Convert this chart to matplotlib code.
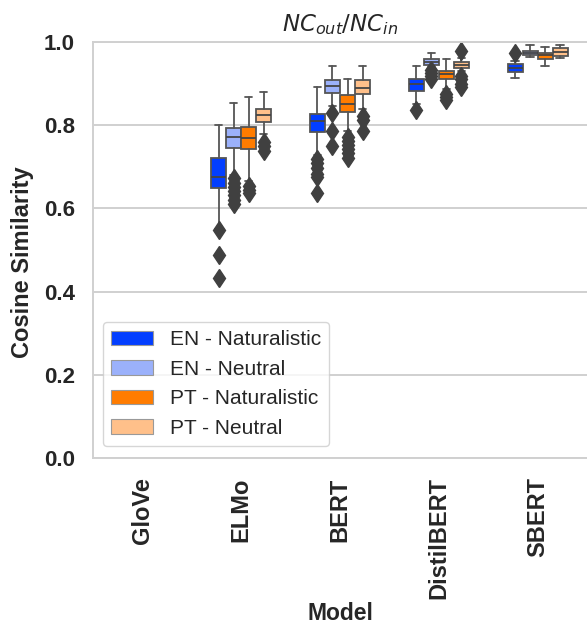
import numpy as np
import matplotlib
matplotlib.use('Agg')
import matplotlib.pyplot as plt
import matplotlib.patches as mpatches
import seaborn as sns

models = ['GloVe', 'ELMo', 'BERT', 'DistilBERT', 'SBERT']
hue_names = ['EN - Naturalistic', 'EN - Neutral', 'PT - Naturalistic', 'PT - Neutral']
hue_colors = ['#023eff', '#9bb1fb', '#ff7c00', '#ffc08a']

# (whislo, q1, median, q3, whishi) per model; GloVe has no data
en_nat = [None, (0.550, 0.648, 0.676, 0.722, 0.800), (0.728, 0.783, 0.810, 0.827, 0.891),
          (0.852, 0.883, 0.898, 0.911, 0.942), (0.914, 0.929, 0.938, 0.946, 0.955)]
en_neu = [None, (0.680, 0.745, 0.771, 0.794, 0.854), (0.845, 0.877, 0.894, 0.909, 0.942),
          (0.940, 0.945, 0.952, 0.958, 0.973), (0.963, 0.969, 0.974, 0.979, 0.993)]
pt_nat = [None, (0.667, 0.743, 0.770, 0.796, 0.867), (0.785, 0.832, 0.851, 0.873, 0.912),
          (0.888, 0.911, 0.922, 0.931, 0.958), (0.942, 0.958, 0.969, 0.973, 0.989)]
pt_neu = [None, (0.778, 0.807, 0.824, 0.838, 0.880), (0.840, 0.874, 0.890, 0.909, 0.943),
          (0.930, 0.937, 0.945, 0.951, 0.961), (0.961, 0.966, 0.976, 0.985, 0.993)]

en_nat_fliers = [[], [0.548, 0.487, 0.432], [0.718, 0.708, 0.696, 0.683, 0.675, 0.638],
                 [0.836], [0.973]]
en_neu_fliers = [[], [0.672, 0.662, 0.652, 0.642, 0.632, 0.620, 0.610], [0.830, 0.786, 0.751],
                 [0.932, 0.925, 0.918, 0.910], []]
pt_nat_fliers = [[], [0.655, 0.645, 0.638], [0.772, 0.762, 0.752, 0.742, 0.732, 0.722],
                 [0.876, 0.868, 0.860], []]
pt_neu_fliers = [[], [0.760, 0.750, 0.737], [0.822, 0.812, 0.786],
                 [0.978, 0.918, 0.910, 0.900, 0.893], []]

series = [(en_nat, en_nat_fliers), (en_neu, en_neu_fliers),
          (pt_nat, pt_nat_fliers), (pt_neu, pt_neu_fliers)]

sns.set_theme(style='whitegrid')
plt.rcParams['font.family'] = ['Liberation Sans', 'DejaVu Sans']

fig = plt.figure(figsize=(5.87, 6.23), dpi=100)
ax = fig.add_axes([93 / 587, 165 / 623, 494 / 587, 416 / 623])

slot = 0.152
edge = '#555555'
for j, (vals, fl) in enumerate(series):
    offset = (j - 1.5) * slot
    for i, v in enumerate(vals):
        if v is None:
            continue
        stats = [dict(whislo=v[0], q1=v[1], med=v[2], q3=v[3], whishi=v[4], fliers=fl[i])]
        ax.bxp(stats, positions=[i + offset], widths=slot, patch_artist=True,
               manage_ticks=False,
               boxprops=dict(facecolor=hue_colors[j], edgecolor=edge, linewidth=1.3),
               medianprops=dict(color='#444444', linewidth=1.3),
               whiskerprops=dict(color=edge, linewidth=1.3),
               capprops=dict(color=edge, linewidth=1.3),
               flierprops=dict(marker='d', markersize=9.5, markerfacecolor='#404040',
                               markeredgecolor='#404040'))

ax.set_xlim(-0.5, 4.5)
ax.set_ylim(0, 1.0)
ax.set_yticks([0.0, 0.2, 0.4, 0.6, 0.8, 1.0])
ax.set_yticklabels(['0.0', '0.2', '0.4', '0.6', '0.8', '1.0'], fontsize=16, fontweight='bold')
ax.set_xticks(np.arange(len(models)))
ax.set_xticklabels(models, rotation=90, fontsize=17, fontweight='bold')
ax.tick_params(axis='y', pad=13, length=0)
ax.tick_params(axis='x', pad=14, length=0)
ax.xaxis.grid(False)
ax.yaxis.grid(True, color='#d0d0d0', linewidth=1.4)
for s in ['left', 'bottom', 'top']:
    ax.spines[s].set_color('#d0d0d0')
    ax.spines[s].set_linewidth(1.4)
ax.spines['right'].set_visible(False)

ax.set_title(r'$NC_{out}/NC_{in}$', fontsize=16.5, pad=8)
ax.set_xlabel('Model', fontsize=16.5, fontweight='bold')
ax.xaxis.set_label_coords(0.5, -0.345)
ax.set_ylabel('Cosine Similarity', fontsize=17, fontweight='bold')
ax.yaxis.set_label_coords(-0.12, 0.47)

handles = [mpatches.Patch(facecolor=c, edgecolor='#999999', linewidth=0.8, label=n)
           for c, n in zip(hue_colors, hue_names)]
ax.legend(handles=handles, loc='lower left', bbox_to_anchor=(0.02, 0.029),
          borderaxespad=0, fontsize=15, labelspacing=0.5, handletextpad=0.8)

fig.savefig('out.png', dpi=100)
